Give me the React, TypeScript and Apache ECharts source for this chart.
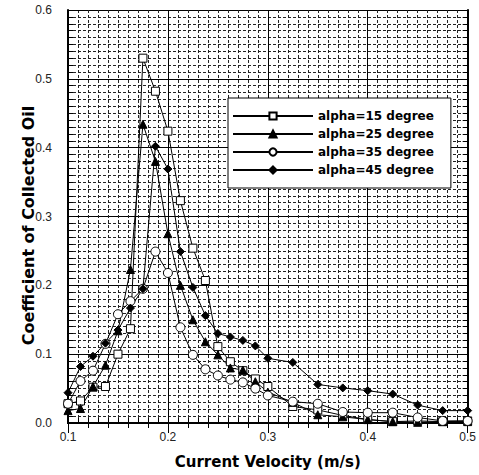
import React, { useEffect, useRef } from "react";
import * as echarts from "echarts";

const xValues = [0.1, 0.1125, 0.125, 0.1375, 0.15, 0.1625, 0.175, 0.1875, 0.2, 0.2125, 0.225, 0.2375, 0.25, 0.2625, 0.275, 0.2875, 0.3, 0.325, 0.35, 0.375, 0.4, 0.425, 0.45, 0.475, 0.5];
const alpha15 = [0.028, 0.032, 0.052, 0.053, 0.100, 0.137, 0.530, 0.482, 0.424, 0.323, 0.254, 0.207, 0.111, 0.089, 0.076, 0.064, 0.053, 0.024, 0.019, 0.011, 0.005, 0.002, 0.003, 0.002, 0.003];
const alpha25 = [0.018, 0.021, 0.053, 0.084, 0.134, 0.223, 0.434, 0.380, 0.275, 0.200, 0.150, 0.118, 0.099, 0.080, 0.077, 0.060, 0.045, 0.030, 0.012, 0.009, 0.005, 0.002, 0.001, 0.002, 0.002];
const alpha35 = [0.028, 0.061, 0.076, 0.115, 0.158, 0.177, 0.195, 0.249, 0.218, 0.139, 0.099, 0.078, 0.069, 0.063, 0.059, 0.050, 0.040, 0.031, 0.028, 0.016, 0.015, 0.015, 0.008, 0.003, 0.003];
const alpha45 = [0.044, 0.082, 0.097, 0.116, 0.135, 0.167, 0.195, 0.402, 0.369, 0.249, 0.197, 0.156, 0.130, 0.125, 0.120, 0.112, 0.094, 0.088, 0.056, 0.051, 0.047, 0.042, 0.026, 0.018, 0.018];

const seriesNames = ["alpha=15 degree", "alpha=25 degree", "alpha=35 degree", "alpha=45 degree"];
const xAxisTitle = "Current Velocity (m/s)";
const yAxisTitle = "Coefficient of Collected Oil";

const pairs = (ys: number[]) => xValues.map((x, i) => [x, ys[i]]);

export default function App() {
  const ref = useRef<HTMLDivElement>(null);
  useEffect(() => {
    document.body.style.margin = "0";
    const chart = echarts.init(ref.current!, null, { renderer: "svg" });
    const labelFont = "'Liberation Sans', Arial, sans-serif";
    const boldFont = "'DejaVu Sans', sans-serif";
    const frame = { show: true, lineStyle: { color: "#000", width: 2 } };
    const mk = (name: string, ys: number[], symbol: string, size: number, filled: boolean) => ({
      name,
      type: "line",
      data: pairs(ys),
      symbol,
      symbolSize: size,
      showSymbol: true,
      lineStyle: { color: "#000", width: 1 },
      itemStyle: { color: filled ? "#000" : "#fff", borderColor: "#000", borderWidth: 1 },
      emphasis: { disabled: true },
    });
    chart.setOption({
      animation: false,
      backgroundColor: "#fff",
      grid: { left: 68, right: 7, top: 10, bottom: 52, containLabel: false },
      legend: {
        left: 228,
        top: 98,
        orient: "vertical",
        backgroundColor: "#fff",
        borderColor: "#000",
        borderWidth: 1,
        borderRadius: 0,
        padding: [12, 17, 12, 4],
        itemWidth: 80,
        itemHeight: 9,
        itemGap: 6,
        textStyle: { fontFamily: boldFont, fontWeight: "bold", fontSize: 12, color: "#000" },
        data: seriesNames,
      },
      xAxis: [
        {
          type: "value",
          position: "bottom",
          min: 0.1,
          max: 0.5,
          interval: 0.1,
          name: xAxisTitle,
          nameLocation: "middle",
          nameGap: 31,
          nameMoveOverlap: false,
          nameTextStyle: { fontFamily: boldFont, fontWeight: "bold", fontSize: 15, color: "#000" },
          axisLine: frame,
          axisTick: { show: true, inside: true, length: 12, lineStyle: { color: "#000", width: 1 } },
          minorTick: { show: true, splitNumber: 10, length: 5, lineStyle: { color: "#000", width: 1 } },
          axisLabel: { margin: 8, fontFamily: labelFont, fontSize: 12, color: "#222", formatter: (v: number) => v.toFixed(1) },
          splitLine: { show: true, lineStyle: { color: "#000", width: 1 } },
          minorSplitLine: { show: true, lineStyle: { color: "#222", width: 1, type: [3, 2] } },
        },
        {
          type: "value",
          position: "top",
          min: 0.1,
          max: 0.5,
          interval: 0.1,
          axisLine: frame,
          axisTick: { show: true, inside: true, length: 10, lineStyle: { color: "#000", width: 1 } },
          minorTick: { show: true, splitNumber: 5, length: 5, lineStyle: { color: "#000", width: 1 } },
          axisLabel: { show: false },
          splitLine: { show: false },
        },
      ],
      yAxis: [
        {
          type: "value",
          position: "left",
          min: 0,
          max: 0.6,
          interval: 0.1,
          name: yAxisTitle,
          nameLocation: "middle",
          nameGap: 32,
          nameMoveOverlap: false,
          nameTextStyle: { fontFamily: boldFont, fontWeight: "bold", fontSize: 16, color: "#000", padding: [0, 18, 0, 0] },
          axisLine: frame,
          axisTick: { show: true, inside: true, length: 12, lineStyle: { color: "#000", width: 1 } },
          minorTick: { show: true, splitNumber: 10, length: 5, lineStyle: { color: "#000", width: 1 } },
          axisLabel: { margin: 16, fontFamily: labelFont, fontSize: 12, color: "#222", formatter: (v: number) => v.toFixed(1) },
          splitLine: { show: true, lineStyle: { color: "#000", width: 1 } },
          minorSplitLine: { show: true, lineStyle: { color: "#222", width: 1, type: [3, 2] } },
        },
        {
          type: "value",
          position: "right",
          min: 0,
          max: 0.6,
          interval: 0.1,
          axisLine: frame,
          axisTick: { show: true, inside: true, length: 10, lineStyle: { color: "#000", width: 1 } },
          minorTick: { show: true, splitNumber: 10, length: 5, lineStyle: { color: "#000", width: 1 } },
          axisLabel: { show: false },
          splitLine: { show: false },
        },
      ],
      series: [
        mk(seriesNames[0], alpha15, "rect", 8, false),
        mk(seriesNames[1], alpha25, "triangle", 8, true),
        mk(seriesNames[2], alpha35, "circle", 9, false),
        mk(seriesNames[3], alpha45, "diamond", 8, true),
      ],
    });
    return () => chart.dispose();
  }, []);
  return <div ref={ref} style={{ position: "absolute", left: 0, top: 0, width: 479, height: 475 }} />;
}
